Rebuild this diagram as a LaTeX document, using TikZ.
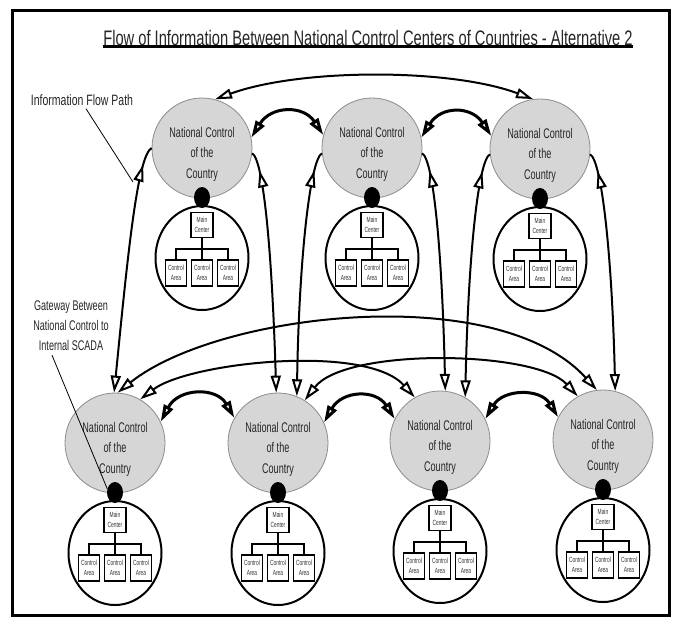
\documentclass[tikz,border=0pt]{standalone}
\usepackage{fontspec}
\setmainfont{Liberation Sans}
\newfontfamily\nar[FakeStretch=0.65]{Liberation Sans}
\newfontfamily\narb[FakeStretch=0.70]{Liberation Sans}
\usetikzlibrary{arrows.meta,decorations.markings,shapes.geometric}

\tikzset{
  >={Triangle[length=17pt,width=10pt,fill=white]},
  nat/.style={circle, minimum size=100pt, inner sep=0pt, fill=black!16, draw=black!45, line width=0.8pt},
  nattext/.style={font=\nar\fontsize{14}{20.5}\selectfont, align=center, text=black!85, inner sep=0pt},
  scada/.style={ellipse, minimum width=93pt, minimum height=104pt, inner sep=0pt, draw=black, line width=2pt, fill=white},
  gwdot/.style={ellipse, fill=black, minimum width=16pt, minimum height=21pt, inner sep=0pt},
  mbox/.style={draw=black, line width=1.6pt, fill=white, minimum width=22pt, minimum height=25pt, inner sep=0pt,
               font=\nar\fontsize{7.5}{10}\selectfont, align=center, text=black!80},
  cbox/.style={draw=black, line width=1.6pt, fill=white, minimum width=21pt, minimum height=26pt, inner sep=0pt,
               font=\nar\fontsize{7.5}{10}\selectfont, align=center, text=black!80},
  tree/.style={line width=1.6pt},
  flow/.style={line width=2pt, ->},
  pair/.style={line width=3pt, <->},
  longpair/.style={line width=2pt, <->},
  backtip/.style={postaction={decorate}, decoration={markings, mark=at position 19pt with {\arrowreversed{>}}}},
  leader/.style={line width=0.8pt},
  lbl/.style={font=\nar\fontsize{14}{20}\selectfont, align=center, text=black!85, inner sep=0pt},
}

\newcommand\countryunit[3]{%
  \node[nat] (#1) at (#2,#3) {};
  \node[nattext] (#1t) at (#2,#3+6) {National Control\\of the\\Country};
  \node[scada] (#1s) at (#2,#3+110) {};
  \node[gwdot] (#1g) at (#2,#3+49.5) {};
  \node[mbox] (#1m) at (#2,#3+77) {Main\\Center};
  \node[cbox] (#1a) at (#2-26,#3+125) {Control\\Area};
  \node[cbox] (#1b) at (#2,#3+125) {Control\\Area};
  \node[cbox] (#1c) at (#2+26,#3+125) {Control\\Area};
  \coordinate (#1j) at (#2,#3+101);
  \draw[tree] (#1m) -- (#1j);
  \draw[tree] (#1a) |- (#1j) -| (#1c);
  \draw[tree] (#1j) -- (#1b);
}

\begin{document}
\begin{tikzpicture}[x=1pt,y=-1pt]
\useasboundingbox (0,0) rectangle (677,625);
\fill[white] (0,0) rectangle (677,625);
\draw[line width=3pt] (12,10) rectangle (669,615);

% title
\node[font=\narb\fontsize{21}{25}\selectfont, inner sep=0pt, text=black!85] (title) at (368,38)
  {Flow of Information Between National Control Centers of Countries - Alternative 2};
\draw[line width=2.5pt] ([yshift=-0.5pt]title.south west) -- ([yshift=-0.5pt]title.south east);

% countries
\countryunit{T1}{202}{148}
\countryunit{T2}{372}{148}
\countryunit{T3}{540}{149}
\countryunit{B1}{115}{443}
\countryunit{B2}{278}{443}
\countryunit{B3}{440}{441}
\countryunit{B4}{603}{440}

% top row links
\draw[longpair] (T1.75) .. controls +(85,-31) and +(-83,-31) .. (T3.98);
\draw[pair] (T1.12) .. controls +(20,-32) and +(-20,-30) .. (T2.165);
\draw[pair] (T2.12) .. controls +(20,-32) and +(-20,-30) .. (T3.165);

% vertical links
\draw[flow, backtip] (T1.180) .. controls +(-14,8) and +(14,-142) .. (B1.91);
\draw[flow, backtip] (T1.354) .. controls +(12,7) and +(-4,-133) .. (B2.92);
\draw[flow, backtip] (T2.186) .. controls +(-12,7) and +(2,-134) .. (B2.68);
\draw[flow, backtip] (T2.354) .. controls +(12,7) and +(-3,-132) .. (B3.84);
\draw[flow, backtip] (T3.186) .. controls +(-12,7) and +(3,-138) .. (B3.60);
\draw[flow, backtip] (T3.354) .. controls +(12,7) and +(-3,-131) .. (B4.76);

% bottom row links
\draw[pair] (B1.25) .. controls +(18,-34) and +(-18,-31) .. (B2.150);
\draw[pair] (B2.24) .. controls +(18,-32) and +(-19,-30) .. (B3.154);
\draw[pair] (B3.26) .. controls +(18,-30) and +(-18,-29) .. (B4.153);
\draw[longpair] (B1.87) .. controls +(100,-80) and +(-100,-110) .. (B4.97);
\draw[longpair] (B1.60) .. controls +(49,-37) and +(-49,-54) .. (B3.120);
\draw[longpair] (B2.58) .. controls +(41,-53) and +(-42,-46) .. (B4.120);

% labels
\node[font=\narb\fontsize{15}{18}\selectfont, inner sep=0pt, text=black!85] (info) at (82,100) {Information Flow Path};
\coordinate (infoend) at (133,182);
\draw[leader] ([xshift=4pt,yshift=-3pt]info.south) -- (infoend);

\node[lbl] (gate) at (71,326) {Gateway Between\\National Control to\\Internal SCADA};
\draw[leader] ([xshift=-19pt,yshift=-4pt]gate.south) -- (B1g.155);
\end{tikzpicture}
\end{document}
